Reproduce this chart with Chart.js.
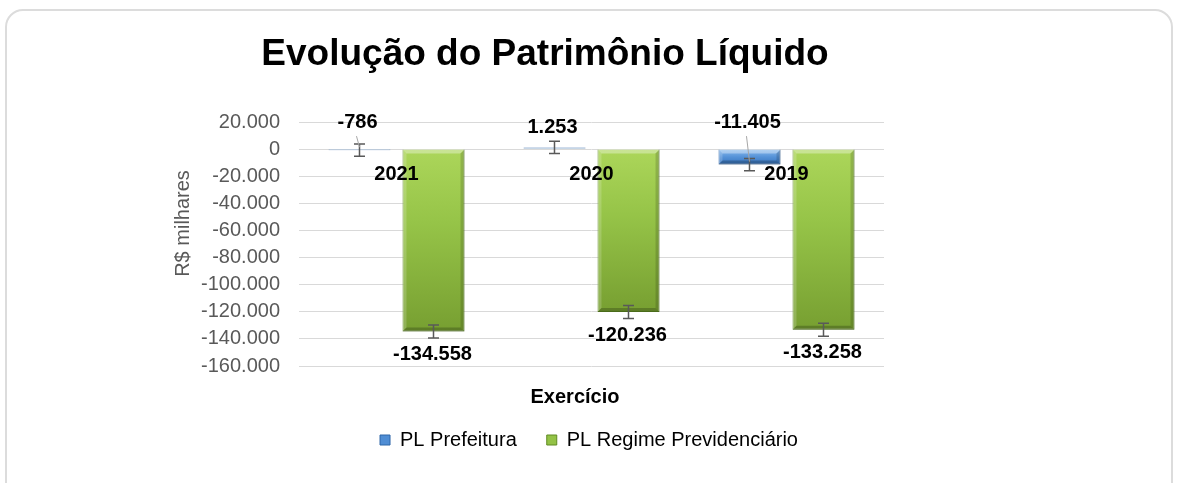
<!DOCTYPE html>
<html><head><meta charset="utf-8">
<script src="https://cdn.jsdelivr.net/npm/chart.js@4.4.1/dist/chart.umd.min.js"></script>
<style>
html,body{margin:0;padding:0;background:#fff;}
#wrap{position:relative;width:1178px;height:483px;overflow:hidden;}
#frame{position:absolute;left:5px;top:9px;width:1164px;height:520px;border:2px solid #dcdcdc;border-radius:18px;}
canvas{position:absolute;left:0;top:0;}
</style></head><body>
<div id="wrap"><div id="frame"></div><canvas id="c" width="1178" height="483"></canvas></div>
<script>
const categories = ['2021', '2020', '2019'];
const seriesNames = ['PL Prefeitura', 'PL Regime Previdenciário'];
const plPrefeitura = [-786, 1253, -11405];
const plRegime = [-134558, -120236, -133258];
const errPrefeitura = [4500, 4500, 4500];
const errRegime = [4800, 4800, 4800];
const yTickValues = [20000, 0, -20000, -40000, -60000, -80000, -100000, -120000, -140000, -160000];
const chartTitle = 'Evolução do Patrimônio Líquido';
const xTitle = 'Exercício';
const yTitle = 'R$ milhares';

const FONT = "'Liberation Sans', Arial, sans-serif";
function fmt(v) {
  const s = Math.abs(Math.round(v)).toString().replace(/\B(?=(\d{3})+(?!\d))/g, '.');
  return (v < 0 ? '-' : '') + s;
}

function barGradient(stops, fallback) {
  return (ctx) => {
    const chart = ctx.chart;
    if (!chart.chartArea || ctx.type !== 'data') return fallback;
    const ys = chart.scales.y;
    const v = ctx.raw;
    const t = ys.getPixelForValue(Math.max(v, 0));
    const b = ys.getPixelForValue(Math.min(v, 0));
    if (!isFinite(t) || !isFinite(b) || b - t < 0.5) return fallback;
    const g = chart.ctx.createLinearGradient(0, t, 0, b);
    stops.forEach(s => g.addColorStop(s[0], s[1]));
    return g;
  };
}

const blueStops = [[0, '#8cbcee'], [0.5, '#5693d8'], [1, '#3573bd']];
const greenStops = [[0, '#acd65a'], [0.4, '#96c448'], [1, '#779f31']];

const errorBars = [errPrefeitura, errRegime];

const overlayPlugin = {
  id: 'overlay',
  afterDatasetsDraw(chart) {
    const ctx = chart.ctx;
    const ys = chart.scales.y;
    const xs = chart.scales.x;
    chart.data.datasets.forEach((ds, di) => {
      const meta = chart.getDatasetMeta(di);
      meta.data.forEach((el) => {
        const p = el.getProps(['x', 'y', 'base', 'width'], true);
        const l = p.x - p.width / 2, r = p.x + p.width / 2;
        const t = Math.min(p.y, p.base), b = Math.max(p.y, p.base);
        const d = Math.min(4, (b - t) / 3);
        if (d <= 0.3) return;
        ctx.save();
        ctx.fillStyle = 'rgba(255,255,255,0.35)';
        ctx.beginPath(); ctx.moveTo(l, t); ctx.lineTo(r, t); ctx.lineTo(r - d, t + d); ctx.lineTo(l + d, t + d); ctx.closePath(); ctx.fill();
        ctx.fillStyle = 'rgba(255,255,255,0.18)';
        ctx.beginPath(); ctx.moveTo(l, t); ctx.lineTo(l + d, t + d); ctx.lineTo(l + d, b - d); ctx.lineTo(l, b); ctx.closePath(); ctx.fill();
        ctx.fillStyle = 'rgba(0,0,0,0.15)';
        ctx.beginPath(); ctx.moveTo(r, t); ctx.lineTo(r, b); ctx.lineTo(r - d, b - d); ctx.lineTo(r - d, t + d); ctx.closePath(); ctx.fill();
        ctx.fillStyle = 'rgba(0,0,0,0.22)';
        ctx.beginPath(); ctx.moveTo(l, b); ctx.lineTo(r, b); ctx.lineTo(r - d, b - d); ctx.lineTo(l + d, b - d); ctx.closePath(); ctx.fill();
        ctx.restore();
      });
    });
    chart.data.datasets.forEach((ds, di) => {
      const meta = chart.getDatasetMeta(di);
      meta.data.forEach((el, i) => {
        const v = ds.data[i];
        const e = errorBars[di][i];
        const yTop = ys.getPixelForValue(v + e);
        const yBot = ys.getPixelForValue(v - e);
        const x = el.x;
        ctx.save();
        ctx.strokeStyle = '#595959';
        ctx.lineWidth = 1.5;
        ctx.beginPath();
        ctx.moveTo(x, yTop); ctx.lineTo(x, yBot);
        ctx.moveTo(x - 5.5, yTop); ctx.lineTo(x + 5.5, yTop);
        ctx.moveTo(x - 5.5, yBot); ctx.lineTo(x + 5.5, yBot);
        ctx.stroke();
        ctx.restore();
      });
    });
    const y0 = ys.getPixelForValue(0);
    ctx.save();
    ctx.font = 'bold 20px ' + FONT;
    ctx.fillStyle = '#000';
    ctx.textAlign = 'center';
    ctx.textBaseline = 'middle';
    const m0 = chart.getDatasetMeta(0);
    m0.data.forEach((el, i) => {
      const v = plPrefeitura[i];
      const x = el.x - 2;
      let ly;
      if (v < 0) {
        ly = y0 - 27;
        ctx.save();
        ctx.strokeStyle = '#a6a6a6';
        ctx.lineWidth = 1;
        ctx.beginPath();
        ctx.moveTo(x - 1, ly + 14);
        ctx.lineTo(el.x, ys.getPixelForValue(v) - 3);
        ctx.stroke();
        ctx.restore();
      } else {
        ly = ys.getPixelForValue(v) - 20;
      }
      ctx.fillText(fmt(v), x, ly);
    });
    const m1 = chart.getDatasetMeta(1);
    m1.data.forEach((el, i) => {
      const v = plRegime[i];
      ctx.fillText(fmt(v), el.x - 1, ys.getPixelForValue(v) + 23);
    });
    categories.forEach((c, i) => {
      ctx.fillText(c, xs.getPixelForValue(i), y0 + 25);
    });
    ctx.restore();
  },
  afterDraw(chart) {
    const ctx = chart.ctx;
    ctx.save();
    ctx.textAlign = 'center';
    ctx.textBaseline = 'middle';
    ctx.fillStyle = '#000';
    ctx.font = 'bold 37px ' + FONT;
    ctx.fillText(chartTitle, 545, 55);
    ctx.font = 'bold 20px ' + FONT;
    ctx.fillText(xTitle, 575, 397);
    ctx.fillStyle = '#595959';
    ctx.font = '20px ' + FONT;
    ctx.translate(183.5, 223.5);
    ctx.rotate(-Math.PI / 2);
    ctx.fillText(yTitle, 0, 0);
    ctx.restore();
  }
};

const legendColors = [['#4f8dd4', '#2e66a8'], ['#93c246', '#5f8a22']];

new Chart(document.getElementById('c'), {
  type: 'bar',
  data: {
    labels: categories,
    datasets: [
      {
        label: seriesNames[0],
        data: plPrefeitura,
        backgroundColor: barGradient(blueStops, '#4f8dd4'),
        borderColor: '#2e66a8',
        borderWidth: 1,
        categoryPercentage: 0.759,
        barPercentage: 0.838
      },
      {
        label: seriesNames[1],
        data: plRegime,
        backgroundColor: barGradient(greenStops, '#8fbe43'),
        borderColor: '#5f8a22',
        borderWidth: 1,
        categoryPercentage: 0.759,
        barPercentage: 0.838
      }
    ]
  },
  options: {
    responsive: false,
    animation: false,
    devicePixelRatio: 1,
    layout: { padding: { top: 122, bottom: 23, left: 0, right: 0 } },
    plugins: {
      title: { display: false },
      tooltip: { enabled: false },
      legend: {
        position: 'bottom',
        labels: {
          font: { family: FONT, size: 20 },
          color: '#404040',
          boxWidth: 10,
          boxHeight: 10,
          padding: 30,
          generateLabels: (chart) => chart.data.datasets.map((ds, i) => ({
            text: ds.label,
            fillStyle: legendColors[i][0],
            strokeStyle: legendColors[i][1],
            lineWidth: 1,
            hidden: false,
            datasetIndex: i
          }))
        }
      }
    },
    scales: {
      x: {
        grid: { display: false },
        border: { display: false },
        ticks: { display: false },
        afterFit: (s) => { s.height = 34; }
      },
      y: {
        min: -160000,
        max: 20000,
        afterBuildTicks: (s) => { s.ticks = yTickValues.map(v => ({ value: v })); },
        afterFit: (s) => { s.width = 299; },
        grid: { color: '#d9d9d9', lineWidth: 1, drawTicks: false },
        border: { display: false },
        ticks: {
          padding: 19,
          color: '#595959',
          font: { family: FONT, size: 20 },
          callback: (v) => fmt(v)
        }
      },
      yR: {
        position: 'right',
        display: true,
        min: -160000,
        max: 20000,
        grid: { display: false },
        border: { display: false },
        ticks: { display: false },
        afterFit: (s) => { s.width = 294; }
      }
    }
  },
  plugins: [overlayPlugin]
});
</script>
</body></html>
